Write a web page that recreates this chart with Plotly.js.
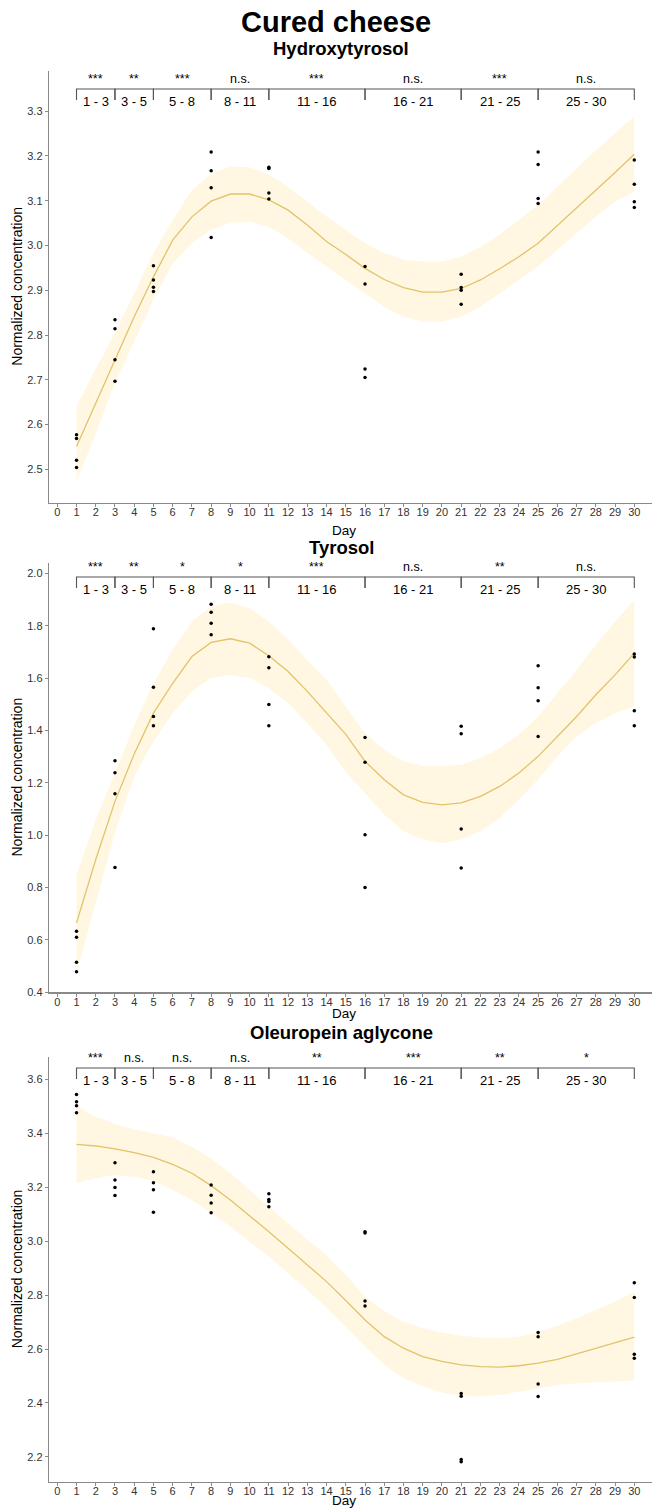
<!DOCTYPE html>
<html>
<head>
<meta charset="utf-8">
<script src="https://cdn.plot.ly/plotly-3.0.1.min.js"></script>
<style>html,body{margin:0;padding:0;background:#fff;}#chart{width:652px;height:1508px;}</style>
</head>
<body>
<div id="chart"></div>
<script>
// ---------- DATA ----------
const mainTitle = 'Cured cheese';
const compounds = ['Hydroxytyrosol', 'Tyrosol', 'Oleuropein aglycone'];

// sample days (4 replicates per sampling day)
const sampleDays = [1,1,1,1, 3,3,3,3, 5,5,5,5, 8,8,8,8, 11,11,11,11, 16,16,16,16, 21,21,21,21, 25,25,25,25, 30,30,30,30];

const htValues = [2.577,2.569,2.520,2.504, 2.834,2.814,2.745,2.697, 2.955,2.923,2.907,2.897, 3.209,3.167,3.129,3.018,
  3.175,3.172,3.117,3.104, 2.953,2.914,2.724,2.705, 2.936,2.906,2.900,2.869, 3.209,3.181,3.105,3.094, 3.191,3.137,3.098,3.085];
const tyValues = [0.633,0.610,0.515,0.478, 1.284,1.238,1.158,0.877, 1.788,1.565,1.453,1.418, 1.882,1.851,1.809,1.765,
  1.681,1.639,1.499,1.418, 1.373,1.278,1.002,0.800, 1.416,1.387,1.024,0.875, 1.647,1.563,1.513,1.377, 1.692,1.680,1.475,1.418];
const olValues = [3.544,3.517,3.502,3.476, 3.291,3.227,3.199,3.169, 3.257,3.217,3.191,3.107, 3.208,3.170,3.142,3.105,
  3.176,3.155,3.147,3.128, 3.035,3.030,2.778,2.760, 2.435,2.425,2.190,2.182, 2.661,2.646,2.470,2.424, 2.846,2.791,2.581,2.566];

// smoothed fit (days 1..30) with confidence band
const fitDays = [1,2,3,4,5,6,7,8,9,10,11,12,13,14,15,16,17,18,19,20,21,22,23,24,25,26,27,28,29,30];
const htFit   = [2.551,2.648,2.744,2.841,2.930,3.012,3.064,3.099,3.115,3.115,3.102,3.079,3.046,3.009,2.980,2.949,2.924,2.906,2.896,2.896,2.904,2.923,2.948,2.975,3.005,3.044,3.083,3.124,3.163,3.204];
const htUpper = [2.640,2.725,2.804,2.895,2.983,3.057,3.124,3.161,3.176,3.175,3.158,3.131,3.098,3.064,3.035,3.005,2.983,2.968,2.964,2.964,2.975,2.997,3.024,3.057,3.091,3.131,3.172,3.213,3.251,3.288];
const htLower = [2.473,2.580,2.692,2.785,2.878,2.960,3.005,3.035,3.051,3.053,3.042,3.016,2.983,2.953,2.922,2.893,2.863,2.841,2.830,2.830,2.841,2.863,2.893,2.923,2.953,2.990,3.027,3.064,3.098,3.120];

const tyFit   = [0.665,0.907,1.129,1.310,1.466,1.580,1.682,1.736,1.750,1.733,1.685,1.625,1.549,1.466,1.385,1.282,1.212,1.154,1.125,1.116,1.123,1.148,1.186,1.237,1.301,1.377,1.453,1.536,1.612,1.695];
const tyUpper = [0.849,1.059,1.237,1.420,1.580,1.708,1.816,1.873,1.888,1.866,1.816,1.746,1.669,1.593,1.490,1.390,1.326,1.282,1.265,1.263,1.269,1.294,1.333,1.383,1.453,1.542,1.631,1.727,1.816,1.898];
const tyLower = [0.474,0.741,1.008,1.224,1.358,1.466,1.549,1.600,1.612,1.600,1.561,1.504,1.428,1.345,1.240,1.161,1.078,1.015,0.983,0.970,0.983,1.015,1.066,1.136,1.212,1.301,1.377,1.428,1.466,1.491];

const olFit   = [3.359,3.353,3.342,3.328,3.311,3.285,3.252,3.206,3.153,3.095,3.035,2.974,2.912,2.850,2.780,2.708,2.646,2.603,2.572,2.554,2.541,2.535,2.533,2.538,2.548,2.562,2.582,2.603,2.624,2.644];
const olUpper = [3.499,3.462,3.434,3.415,3.400,3.385,3.350,3.307,3.252,3.190,3.128,3.066,3.005,2.949,2.875,2.795,2.739,2.702,2.677,2.661,2.649,2.643,2.640,2.646,2.661,2.686,2.714,2.745,2.776,2.813];
const olLower = [3.217,3.233,3.245,3.239,3.223,3.190,3.153,3.103,3.054,2.998,2.943,2.881,2.820,2.752,2.683,2.609,2.541,2.492,2.461,2.439,2.426,2.424,2.430,2.442,2.455,2.467,2.473,2.477,2.479,2.483];

// comparison brackets
const intervalStart = [1,3,5,8,11,16,21,25];
const intervalEnd   = [3,5,8,11,16,21,25,30];
const intervalLabels = ['1 - 3','3 - 5','5 - 8','8 - 11','11 - 16','16 - 21','21 - 25','25 - 30'];
const htSig = ['***','**','***','n.s.','***','n.s.','***','n.s.'];
const tySig = ['***','**','*','*','***','n.s.','**','n.s.'];
const olSig = ['***','n.s.','n.s.','n.s.','**','***','**','*'];

const xTitle = 'Day';
const yTitle = 'Normalized concentration';

// ---------- LAYOUT / STYLE ----------
const W = 652, H = 1508;
const FONT = 'Liberation Sans, Arial, Helvetica, sans-serif';
const plotLeft = 49;
const panels = [
  {top: 70.7, bottom: 502.7, range: [2.4254, 3.3905], dtick: 0.1, bracket: 89, titleY: 49, dayY: 530,
   pts: htValues, fit: htFit, up: htUpper, lo: htLower, sig: htSig},
  {top: 562.8, bottom: 992.3, range: [0.40, 2.04], dtick: 0.2, bracket: 577, titleY: 547, dayY: 1013,
   pts: tyValues, fit: tyFit, up: tyUpper, lo: tyLower, sig: tySig},
  {top: 1057, bottom: 1481.7, range: [2.108, 3.683], dtick: 0.2, bracket: 1068, titleY: 1032, dayY: 1500.5,
   pts: olValues, fit: olFit, up: olUpper, lo: olLower, sig: olSig}
];
const py = p => (H - p) / H;   // pixel -> paper y
const px = p => p / W;         // pixel -> paper x

const traces = [];
const layout = {
  width: W, height: H,
  margin: {l: 0, r: 0, t: 0, b: 0},
  paper_bgcolor: '#ffffff', plot_bgcolor: '#ffffff',
  showlegend: false,
  font: {family: FONT, color: '#000'},
  annotations: [], shapes: []
};

const bandColor = '#FFF7E2';
const lineColor = '#E2C36B';
const axisColor = '#8a8a8a';

panels.forEach((p, i) => {
  const n = i === 0 ? '' : String(i + 1);
  const xa = 'x' + n, ya = 'y' + n;
  layout['xaxis' + n] = {
    domain: [px(plotLeft), 1], range: [-0.43, 30.92], anchor: ya,
    tickmode: 'linear', tick0: 0, dtick: 1,
    showline: true, linecolor: axisColor, linewidth: 1.3,
    ticks: 'outside', ticklen: 3, tickcolor: axisColor, tickwidth: 1,
    ticklabelstandoff: -4,
    showgrid: false, zeroline: false,
    tickfont: {family: FONT, size: 11, color: '#333'}, fixedrange: true
  };
  layout['yaxis' + n] = {
    domain: [py(p.bottom), py(p.top)], range: p.range, anchor: xa,
    tickmode: 'linear', tick0: 0, dtick: p.dtick, tickformat: '.1f',
    showline: true, linecolor: axisColor, linewidth: 1.3,
    ticks: 'outside', ticklen: 3, tickcolor: axisColor, tickwidth: 1,
    showgrid: false, zeroline: false,
    tickfont: {family: FONT, size: 11, color: '#333'}, fixedrange: true
  };

  traces.push({x: fitDays, y: p.lo, xaxis: xa, yaxis: ya, type: 'scatter', mode: 'lines',
    line: {width: 0, color: bandColor}, hoverinfo: 'skip'});
  traces.push({x: fitDays, y: p.up, xaxis: xa, yaxis: ya, type: 'scatter', mode: 'lines',
    fill: 'tonexty', fillcolor: bandColor, line: {width: 0, color: bandColor}, hoverinfo: 'skip'});
  traces.push({x: fitDays, y: p.fit, xaxis: xa, yaxis: ya, type: 'scatter', mode: 'lines',
    line: {width: 1.3, color: lineColor}});
  traces.push({x: sampleDays, y: p.pts, xaxis: xa, yaxis: ya, type: 'scatter', mode: 'markers',
    marker: {size: 3.5, color: '#000'}});

  // subplot title
  layout.annotations.push({text: '<b>' + compounds[i] + '</b>', xref: 'paper', yref: 'paper',
    x: px(341), y: py(p.titleY), xanchor: 'center', yanchor: 'middle', showarrow: false,
    font: {family: FONT, size: 18.5, color: '#000'}});
  // axis titles
  layout.annotations.push({text: xTitle, xref: 'paper', yref: 'paper',
    x: px(344), y: py(p.dayY), xanchor: 'center', yanchor: 'middle', showarrow: false,
    font: {family: FONT, size: 13.5, color: '#000'}});
  layout.annotations.push({text: yTitle, xref: 'paper', yref: 'paper', textangle: -90,
    x: px(17), y: py((p.top + p.bottom) / 2), xanchor: 'center', yanchor: 'middle', showarrow: false,
    font: {family: FONT, size: 14, color: '#000'}});

  // brackets
  const bl = p.bracket;
  intervalStart.forEach((a, k) => {
    const b = intervalEnd[k];
    layout.shapes.push({type: 'path', xref: xa, yref: 'paper',
      path: 'M ' + a + ' ' + py(bl + 11) + ' L ' + a + ' ' + py(bl) + ' L ' + b + ' ' + py(bl) + ' L ' + b + ' ' + py(bl + 11),
      line: {color: '#555', width: 1.1}});
    layout.annotations.push({text: intervalLabels[k], xref: xa, yref: 'paper',
      x: (a + b) / 2, y: py(bl + 12.5), xanchor: 'center', yanchor: 'middle', showarrow: false,
      font: {family: FONT, size: 13, color: '#000'}});
    layout.annotations.push({text: p.sig[k], xref: xa, yref: 'paper',
      x: (a + b) / 2, y: py(bl - 1), xanchor: 'center', yanchor: 'bottom', showarrow: false,
      font: {family: FONT, size: 12.5, color: '#000'}});
  });
});

layout.annotations.push({text: '<b>' + mainTitle + '</b>', xref: 'paper', yref: 'paper',
  x: px(336), y: py(22), xanchor: 'center', yanchor: 'middle', showarrow: false,
  font: {family: FONT, size: 29, color: '#000'}});

Plotly.newPlot('chart', traces, layout, {displayModeBar: false, staticPlot: true});
</script>
</body>
</html>
